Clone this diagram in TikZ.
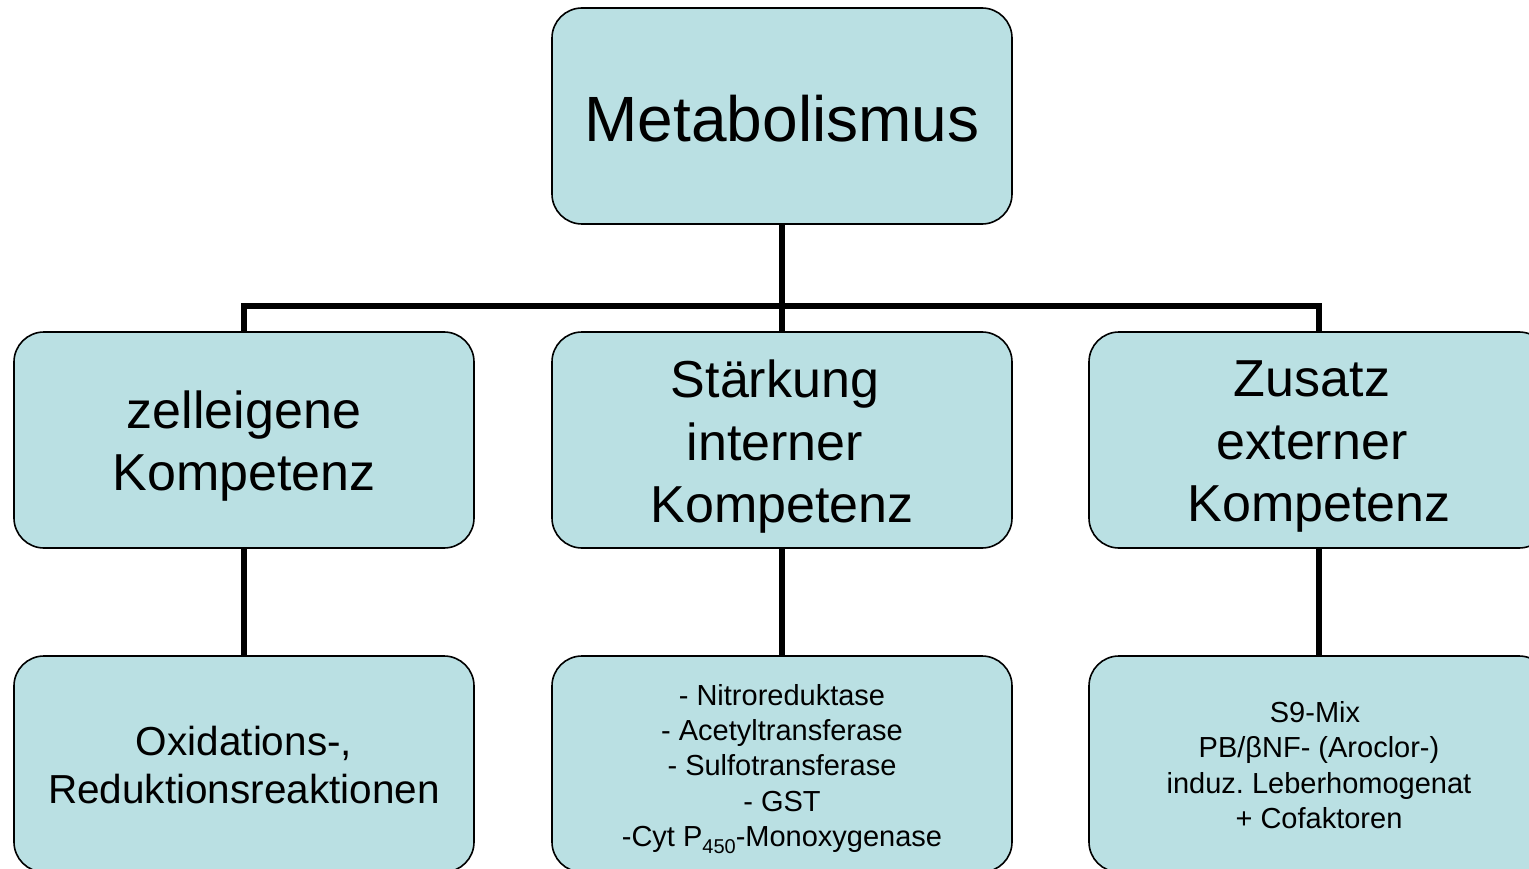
\documentclass[tikz,border=0pt]{standalone}
\usepackage{fontspec}
\setmainfont{Liberation Sans}
\frenchspacing
\definecolor{boxfill}{RGB}{186,224,227}
\begin{document}
\begin{tikzpicture}[x=1pt,y=-1pt,
  box/.style={draw=black,line width=1.6pt,fill=boxfill,rounded corners=30pt,
    minimum width=460pt,minimum height=216pt,inner sep=0pt},
  txt/.style={inner sep=0pt,align=center,text=black},
  conn/.style={draw=black,line width=6pt,line join=miter},
  huge/.style={font=\fontsize{64}{77}\selectfont},
  big/.style={font=\fontsize{52}{62.5}\selectfont},
  mid/.style={font=\fontsize{40.5}{48}\selectfont},
  small/.style={font=\fontsize{29}{35.3}\selectfont}]
\clip (0,0) rectangle (1529,869);
\fill[white] (0,0) rectangle (1529,869);
\node[box] (top) at (782,116) {};
\node[box] (l1) at (244,440) {};
\node[box] (m1) at (782,440) {};
\node[box] (r1) at (1319,440) {};
\node[box] (l2) at (244,764) {};
\node[box] (m2) at (782,764) {};
\node[box] (r2) at (1319,764) {};
\node[txt,huge] (topt) at ([yshift=-3pt]top.center) {Metabolismus};
\node[txt,big] (l1t) at ([yshift=-6pt]l1.center) {zelleigene\\Kompetenz};
\node[txt,big] (m1t) at ([yshift=-7pt]m1.center) {Stärkung\kern14pt\\interner\kern14pt\\Kompetenz};
\node[txt,big] (r1t) at ([yshift=-7pt]r1.center) {Zusatz\kern14pt\\externer\kern14pt\\Kompetenz};
\node[txt,mid] (l2t) at ([yshift=-1pt]l2.center) {Oxidations-,\\Reduktionsreaktionen};
\node[txt,small] (m2t) at ([yshift=-5pt]m2.center) {- Nitroreduktase\\- Acetyltransferase\\- Sulfotransferase\\- GST\\-Cyt P\raisebox{-7pt}{\fontsize{20}{20}\selectfont 450}-Monoxygenase};
\node[txt,small] (r2t) at ([yshift=-1pt]r2.center) {S9-Mix\kern8pt\\PB/βNF- (Aroclor-)\\induz.\ Leberhomogenat\\+ Cofaktoren};
\coordinate (bus) at (782,306);
\draw[conn] (top.south) -- (bus);
\draw[conn] (l1.north) |- (bus) -| (r1.north);
\draw[conn] (bus) -- (m1.north);
\draw[conn] (l1.south) -- (l2.north);
\draw[conn] (m1.south) -- (m2.north);
\draw[conn] (r1.south) -- (r2.north);
\end{tikzpicture}
\end{document}
